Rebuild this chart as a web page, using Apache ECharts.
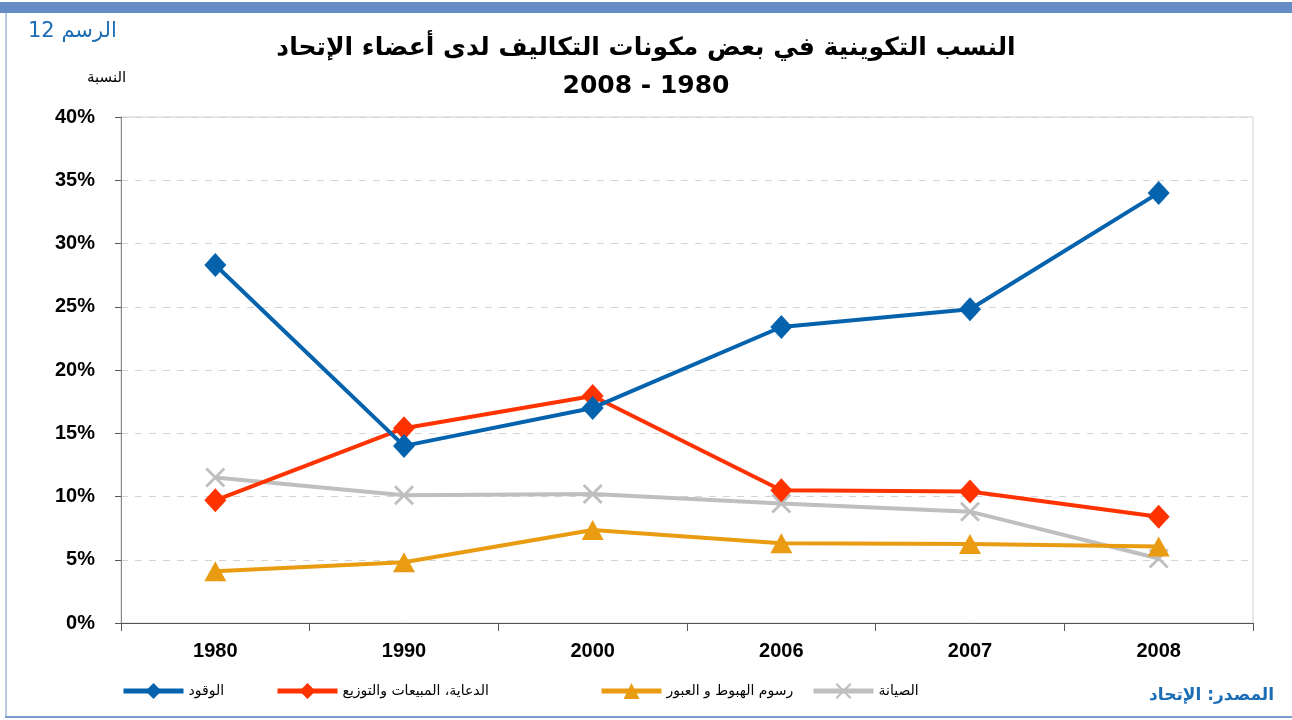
<!DOCTYPE html>
<html>
<head>
<meta charset="utf-8">
<title>chart</title>
<script src="https://cdn.jsdelivr.net/npm/echarts@6/dist/echarts.min.js"></script>
<style>
  html, body { margin: 0; padding: 0; background: #fff; }
  #main { width: 1292px; height: 720px; }
</style>
</head>
<body>
<div id="main"></div>
<script>
// السنوات
const years = ["1980", "1990", "2000", "2006", "2007", "2008"];
// النسب (%)
const fuel = [28.3, 14.0, 17.0, 23.4, 24.8, 34.0];
const sales = [9.7, 15.4, 17.95, 10.5, 10.4, 8.4];
const landing = [4.1, 4.8, 7.35, 6.3, 6.25, 6.05];
const maintenance = [11.5, 10.1, 10.2, 9.45, 8.8, 5.1];
const seriesNames = ["الوقود", "الدعاية، المبيعات والتوزيع", "رسوم الهبوط و العبور", "الصيانة"];
const yTicks = [0, 5, 10, 15, 20, 25, 30, 35, 40];

const arabicFont = "DejaVu Sans";
// علامة X
const crossPath = "path://M0,1 L1,0 L5,4 L9,0 L10,1 L6,5 L10,9 L9,10 L5,6 L1,10 L0,9 L4,5 Z";

const chart = echarts.init(document.getElementById("main"));

function legendAt(name, left) {
  return {
    data: [name],
    left: left,
    top: 678,
    itemWidth: 60,
    itemHeight: 20,
    itemGap: 10,
    lineStyle: { width: 5 },
    textStyle: { fontFamily: arabicFont, fontSize: 14, color: "#000" }
  };
}

chart.setOption({
  animation: false,
  backgroundColor: "#fff",
  graphic: [
    // إطار الصفحة
    { type: "rect", shape: { x: 0, y: 2, width: 1292, height: 11 }, style: { fill: "#668cc6" } },
    { type: "rect", shape: { x: 5, y: 13, width: 2, height: 704 }, style: { fill: "#b9cae6" } },
    { type: "rect", shape: { x: 5, y: 716, width: 1287, height: 2 }, style: { fill: "#7d9ccc" } },
    // النصوص
    {
      type: "text", left: 28, top: 21,
      style: { text: "الرسم 12", fontFamily: arabicFont, fontSize: 21, fill: "#1b6db5" }
    },
    {
      type: "text", left: 87, top: 71,
      style: { text: "النسبة", fontFamily: arabicFont, fontSize: 15, fill: "#000" }
    },
    {
      type: "text", right: 18, top: 687,
      style: { text: "المصدر: الإتحاد", fontFamily: arabicFont, fontSize: 17, fontWeight: "bold", fill: "#1b6db5" }
    }
  ],
  title: {
    text: "النسب التكوينية في بعض مكونات التكاليف لدى أعضاء الإتحاد\n2008 - 1980",
    left: "center",
    top: 24,
    textStyle: {
      fontFamily: arabicFont,
      fontSize: 25,
      fontWeight: "bold",
      color: "#000",
      lineHeight: 38,
      align: "center"
    }
  },
  legend: [
    legendAt(seriesNames[0], 116),
    legendAt(seriesNames[1], 270),
    legendAt(seriesNames[2], 594),
    legendAt(seriesNames[3], 806)
  ],
  grid: {
    left: 121,
    right: 39,
    top: 117,
    bottom: 97,
    show: true,
    borderColor: "#d0d0d0",
    borderWidth: 1
  },
  xAxis: {
    type: "category",
    data: years,
    boundaryGap: true,
    axisLine: { lineStyle: { color: "#555", width: 1 } },
    axisTick: { show: true, length: 8, lineStyle: { color: "#555" } },
    axisLabel: {
      margin: 18,
      fontFamily: "Liberation Sans",
      fontSize: 20,
      fontWeight: "bold",
      color: "#000"
    },
    splitLine: { show: false }
  },
  yAxis: {
    type: "value",
    min: yTicks[0],
    max: yTicks[yTicks.length - 1],
    interval: 5,
    axisLine: { show: true, lineStyle: { color: "#888", width: 1 } },
    axisTick: { show: true, length: 6, lineStyle: { color: "#555" } },
    axisLabel: {
      formatter: "{value}%",
      margin: 26,
      fontFamily: "Liberation Sans",
      fontSize: 20,
      fontWeight: "bold",
      color: "#000"
    },
    splitLine: { show: true, lineStyle: { color: "#d4d4d4", type: [7, 7], width: 1 } }
  },
  series: [
    {
      name: seriesNames[3],
      type: "line",
      data: maintenance,
      symbol: crossPath,
      symbolSize: 20,
      lineStyle: { color: "#bfbfbf", width: 4 },
      itemStyle: { color: "#bfbfbf" },
      z: 2
    },
    {
      name: seriesNames[2],
      type: "line",
      data: landing,
      symbol: "triangle",
      symbolSize: [22, 20],
      lineStyle: { color: "#e99c12", width: 4 },
      itemStyle: { color: "#e99c12" },
      z: 3
    },
    {
      name: seriesNames[1],
      type: "line",
      data: sales,
      symbol: "diamond",
      symbolSize: [22, 24],
      lineStyle: { color: "#ff3300", width: 4 },
      itemStyle: { color: "#ff3300" },
      z: 4
    },
    {
      name: seriesNames[0],
      type: "line",
      data: fuel,
      symbol: "diamond",
      symbolSize: [22, 24],
      lineStyle: { color: "#0563ae", width: 4 },
      itemStyle: { color: "#0563ae" },
      z: 5
    }
  ]
});
</script>
</body>
</html>
